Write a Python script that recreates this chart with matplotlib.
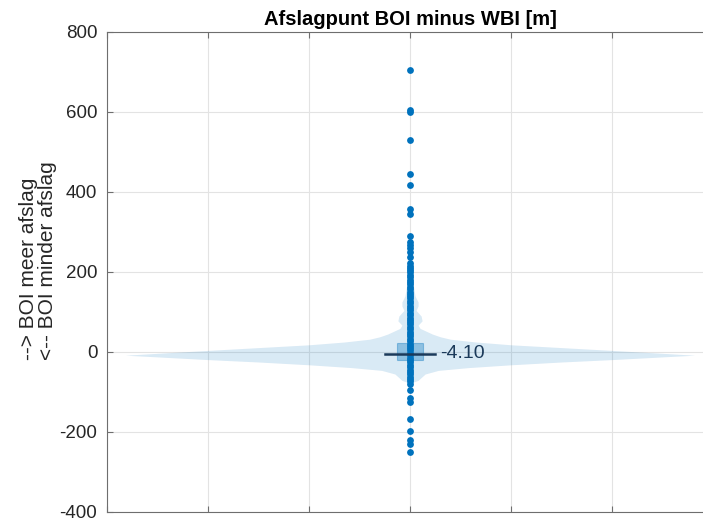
"""Violin plot: Afslagpunt BOI minus WBI [m]."""

import matplotlib

matplotlib.use("Agg")
import matplotlib.pyplot as plt
import numpy as np

plt.rcParams["font.family"] = ["Liberation Sans", "DejaVu Sans"]
plt.rcParams["axes.unicode_minus"] = False

# ---- Data ---------------------------------------------------------------
title = "Afslagpunt BOI minus WBI [m]"
ylabel_lines = ["--> BOI meer afslag", "<-- BOI minder afslag"]
y_ticks = [-400, -200, 0, 200, 400, 600, 800]

# violin outline: value [m] and half width (x units)
violin_y = [200, 170, 140, 125, 115, 104, 90, 78, 67, 59, 52, 45, 38, 32,
            25, 18, 11, 4, -2, -8, -12, -19, -25, -32, -39, -46, -55, -64,
            -71, -78]
violin_hw = [0.0, 0.03, 0.05, 0.08, 0.08, 0.06, 0.11, 0.12, 0.08, 0.10,
             0.16, 0.22, 0.30, 0.40, 0.65, 1.00, 1.50, 2.00, 2.41, 2.82,
             2.52, 2.00, 1.50, 1.00, 0.58, 0.28, 0.15, 0.11, 0.08, 0.0]

q1, q3 = -21.0, 22.0
median = -4.10

outliers_high = [706, 604, 600, 531, 444, 418, 358, 346, 289, 275, 268,
                 260, 250, 238]
dense_core = [222, 216, 210, 204, 199, 193, 187, 181, 175, 169, 163, 157,
              151, 146, 140, 134, 128, 122, 116, 110, 104, 98, 92, 86, 80,
              75, 69, 63, 57, 51, 45, 39, 33, 27, 21, 16, 10, 4, -2, -8,
              -14, -20, -26, -32, -38, -44, -50, -56, -62, -68, -73, -79]
outliers_low = [-94, -114, -125, -167, -198, -221, -229, -250]

# ---- Figure -------------------------------------------------------------
blue = "#0072BD"
pos = 3.0

fig = plt.figure(figsize=(7.03, 5.2), dpi=100)
ax = fig.add_axes([107 / 703, 8 / 520, 606 / 703, 480 / 520])

vy = np.array(violin_y, dtype=float)
vw = np.array(violin_hw, dtype=float)
ax.fill_betweenx(vy, pos - vw, pos + vw, color=blue, alpha=0.15, lw=0,
                 zorder=2)

values = np.array(outliers_high + dense_core + outliers_low, dtype=float)
ax.scatter(np.full(values.shape, pos), values, s=24, color=blue, lw=0,
           zorder=3)

ax.add_patch(plt.Rectangle((pos - 0.13, q1), 0.26, q3 - q1,
                           facecolor=blue, alpha=0.35, edgecolor=blue,
                           lw=0.8, zorder=4))
ax.plot([pos - 0.25, pos + 0.25], [median, median], color="#1b3a5a",
        lw=1.8, zorder=5)
ax.text(pos + 0.30, median, f"{median:.2f}", ha="left", va="center",
        fontsize=14, color="#1b3a5a", zorder=6)

ax.set_xlim(0, 6)
ax.set_ylim(-400, 800)
ax.set_xticks(range(0, 7))
ax.set_xticklabels([])
ax.set_yticks(y_ticks)
ax.tick_params(direction="in", length=4, width=0.8, color="#6e6e6e",
               labelsize=13.5, labelcolor="#262626", top=True, right=True,
               pad=7)
for sp in ax.spines.values():
    sp.set_color("#6e6e6e")
    sp.set_linewidth(0.8)
ax.grid(True, color="#e3e3e3", lw=0.8)
ax.set_axisbelow(True)

ax.set_title(title, fontsize=14.5, fontweight="bold", color="#000000", pad=5)
fig.text(38 / 703, 0.499, "\n".join(ylabel_lines), rotation=90, ha="center",
         va="center", multialignment="left", fontsize=15, linespacing=0.95,
         color="#262626")

fig.savefig("out.png", dpi=100)
